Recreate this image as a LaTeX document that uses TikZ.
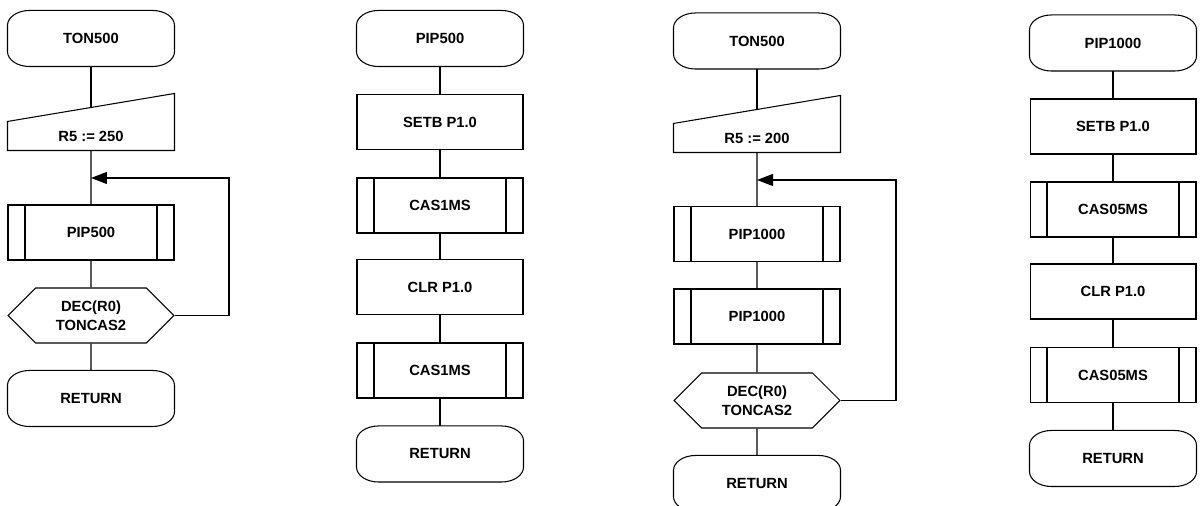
\documentclass[tikz,border=0pt]{standalone}
\usepackage{fontspec}
\setmainfont{Liberation Sans}
\usetikzlibrary{arrows.meta,%
                shapes.symbols}

\begin{document}
\begin{tikzpicture}[x=0.02cm,y=0.02cm,line width=0.6pt,
    font=\fontsize{8.4}{10.8}\selectfont\bfseries,
    every node/.style={inner sep=0pt,align=center},
    terminal/.style={minimum width=3.32cm,minimum height=1.1cm},
    process/.style={draw,minimum width=3.32cm,minimum height=1.1cm},
    subproc/.style={process,path picture={
      \draw ([xshift=0.34cm]path picture bounding box.north west) -- ([xshift=0.34cm]path picture bounding box.south west);
      \draw ([xshift=-0.34cm]path picture bounding box.north east) -- ([xshift=-0.34cm]path picture bounding box.south east);}},
    decision/.style={draw,signal,signal to=west and east,signal pointer angle=90,
      minimum width=3.32cm,minimum height=1.1cm},
    manual/.style={minimum width=3.32cm,minimum height=0.56cm},
    loopback/.style={-{Triangle[length=0.32cm,width=0.24cm]}}]
  \useasboundingbox (0,0) rectangle (1200,506);

  % TON500 (R5 := 250)
  \node[terminal] (t1) at (91,467.5) {TON500};
  \node[manual] (m1) at (91,370) {R5 := 250};
  \node[subproc] (s1) at (91,273.5) {PIP500};
  \node[decision] (h1) at (91,190.5) {DEC(R0)\\TONCAS2};
  \node[terminal] (r1) at (91,107.5) {RETURN};
  \coordinate (m1top) at ([yshift=0.28cm]m1.north);
  \coordinate (j1) at (91,328);
  \coordinate (k1) at (229,328);

  % PIP500
  \node[terminal] (t2) at (440,467.5) {PIP500};
  \node[process] (b2) at (440,384) {SETB P1.0};
  \node[subproc] (s2a) at (440,300.5) {CAS1MS};
  \node[process] (c2) at (440,219) {CLR P1.0};
  \node[subproc] (s2b) at (440,135.5) {CAS1MS};
  \node[terminal] (r2) at (440,52) {RETURN};

  % TON500 (R5 := 200)
  \node[terminal] (t3) at (757,465) {TON500};
  \node[manual] (m3) at (757,368) {R5 := 200};
  \node[subproc] (s3a) at (757,272) {PIP1000};
  \node[subproc] (s3b) at (757,189.5) {PIP1000};
  \node[decision] (h3) at (757,105.5) {DEC(R0)\\TONCAS2};
  \node[terminal] (r3) at (757,22.5) {RETURN};
  \coordinate (m3top) at ([yshift=0.28cm]m3.north);
  \coordinate (j3) at (757,326);
  \coordinate (k3) at (896,326);

  % PIP1000
  \node[terminal] (t4) at (1113,463) {PIP1000};
  \node[process] (b4) at (1113,379.5) {SETB P1.0};
  \node[subproc] (s4a) at (1113,296.5) {CAS05MS};
  \node[process] (c4) at (1113,214.5) {CLR P1.0};
  \node[subproc] (s4b) at (1113,131) {CAS05MS};
  \node[terminal] (r4) at (1113,47.5) {RETURN};

  % terminal outlines
  \foreach \n in {t1,r1,t2,r2,t3,r3,t4,r4}
    \draw ([xshift=0.44cm]\n.north west) -- ([xshift=-0.44cm]\n.north east)
      arc[start angle=90,end angle=0,x radius=0.44cm,y radius=0.3cm]
      -- ([yshift=0.3cm]\n.south east)
      arc[start angle=0,end angle=-90,x radius=0.44cm,y radius=0.3cm]
      -- ([xshift=0.44cm]\n.south west)
      arc[start angle=270,end angle=180,x radius=0.44cm,y radius=0.3cm]
      -- ([yshift=-0.3cm]\n.north west)
      arc[start angle=180,end angle=90,x radius=0.44cm,y radius=0.3cm]
      -- cycle;

  % manual input outlines
  \foreach \n in {m1,m3}
    \draw (\n.south west) -- (\n.north west) -- ([yshift=0.56cm]\n.north east)
      -- (\n.south east) -- cycle;

  % connectors
  \draw (t1) -- (m1top);
  \draw (m1) -- (s1) -- (h1) -- (r1);
  \draw[loopback] (h1.east) -| (k1) -- (j1);
  \draw (t2) -- (b2) -- (s2a) -- (c2) -- (s2b) -- (r2);
  \draw (t3) -- (m3top);
  \draw (m3) -- (s3a) -- (s3b) -- (h3) -- (r3);
  \draw[loopback] (h3.east) -| (k3) -- (j3);
  \draw (t4) -- (b4) -- (s4a) -- (c4) -- (s4b) -- (r4);
\end{tikzpicture}
\end{document}
